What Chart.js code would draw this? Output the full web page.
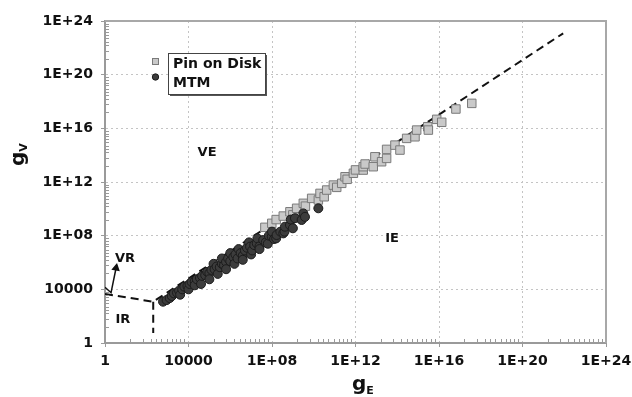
<!DOCTYPE html>
<html>
<head>
<meta charset="utf-8">
<script src="https://cdn.jsdelivr.net/npm/chart.js@4.4.0/dist/chart.umd.min.js"></script>
<style>
  html, body { margin: 0; padding: 0; background: #fff; }
  #wrap { width: 632px; height: 397px; }
</style>
</head>
<body>
<div id="wrap"><canvas id="chart" width="632" height="397"></canvas></div>
<script>
// values, as log10 of gE / gV
const pinLogE = [7.66, 7.99, 8.2, 8.54, 8.86, 9.0, 9.18, 9.5, 9.6, 9.9, 10.22, 10.3, 10.5, 10.62, 10.94, 11.1, 11.34, 11.5, 11.6, 11.9, 12.0, 12.37, 12.37, 12.46, 12.85, 12.93, 13.25, 13.49, 13.49, 13.89, 14.13, 14.45, 14.85, 14.93, 15.46, 15.49, 15.89, 16.13, 16.81, 17.57];
const pinLogV = [8.62, 8.92, 9.2, 9.46, 9.78, 9.55, 10.04, 10.41, 10.2, 10.78, 10.66, 11.15, 10.9, 11.4, 11.77, 11.6, 11.9, 12.39, 12.2, 12.65, 12.9, 12.89, 13.14, 13.34, 13.14, 13.88, 13.51, 13.76, 14.43, 14.75, 14.38, 15.25, 15.37, 15.87, 16.12, 15.87, 16.67, 16.45, 17.44, 17.86];

const mtmLogE = [2.78, 2.95, 3.1, 3.2, 3.3, 3.45, 3.55, 3.6, 3.7, 3.8, 3.95, 4.0, 4.05, 4.15, 4.3, 4.3, 4.4, 4.55, 4.6, 4.65, 4.8, 4.9, 5.0, 5.0, 5.1, 5.2, 5.25, 5.35, 5.4, 5.5, 5.6, 5.6, 5.7, 5.8, 5.8, 5.9, 6.0, 6.0, 6.15, 6.2, 6.25, 6.35, 6.4, 6.5, 6.6, 6.6, 6.7, 6.8, 6.9, 6.95, 7.0, 7.05, 7.15, 7.27, 7.3, 7.4, 7.4, 7.58, 7.7, 7.8, 7.85, 7.99, 8.0, 8.1, 8.2, 8.22, 8.4, 8.54, 8.6, 8.62, 8.86, 8.9, 9.0, 9.1, 9.42, 9.5, 9.58, 10.22];
const mtmLogV = [3.08, 3.2, 3.35, 3.5, 3.7, 3.75, 3.9, 3.6, 4.0, 4.2, 4.25, 4.0, 4.4, 4.55, 4.6, 4.3, 4.75, 4.85, 4.4, 5.0, 5.05, 5.3, 5.2, 4.75, 5.45, 5.9, 5.5, 5.7, 5.15, 5.65, 5.9, 6.3, 5.8, 6.05, 5.5, 6.3, 6.1, 6.7, 6.4, 5.9, 6.6, 6.3, 7.0, 6.7, 6.5, 6.2, 6.9, 7.1, 7.5, 7.18, 6.6, 6.9, 7.3, 7.43, 7.8, 7.2, 7.0, 7.67, 7.5, 7.4, 8.0, 7.92, 8.3, 7.75, 7.8, 8.05, 8.3, 8.17, 8.3, 8.67, 8.79, 9.2, 8.55, 9.3, 9.17, 9.66, 9.4, 10.04];

// regime boundaries (dashed) and the VR arrow
const boundaryLogE = [0, 2.31, 21.95];
const boundaryLogV = [3.65, 3.08, 23.08];
const irLogE = [2.31, 2.31];
const irLogV = [3.08, 0.75];
const arrowLogE = [0, 0.29, 0.53];
const arrowLogV = [4.15, 3.75, 5.59];

const majorTicks = [1, 1e4, 1e8, 1e12, 1e16, 1e20, 1e24];
const tickLabels = ["1", "10000", "1E+08", "1E+12", "1E+16", "1E+20", "1E+24"];
const minorOffsets = [1.2, 1.8, 2.2, 2.45, 2.7, 2.95, 3.2, 3.4, 3.6, 3.8];

const regionNames = ["VE", "IE", "VR", "IR"];
const regionLogE = [4.89, 13.75, 0.96, 0.86];
const regionLogV = [14.16, 7.75, 6.26, 1.71];

const toPoints = (le, lv) => le.map((e, i) => ({ x: Math.pow(10, e), y: Math.pow(10, lv[i]) }));

const FONT = "'DejaVu Sans', Verdana, sans-serif";

const extras = {
  id: "extras",
  afterDraw(chart) {
    const { ctx, chartArea: a, scales } = chart;
    const xs = scales.x, ys = scales.y;
    ctx.save();

    // frame top / right
    ctx.strokeStyle = "#a8a8a8";
    ctx.lineWidth = 2;
    ctx.beginPath();
    ctx.moveTo(a.left, a.top);
    ctx.lineTo(a.right, a.top);
    ctx.lineTo(a.right, a.bottom);
    ctx.stroke();

    // minor ticks, pointing inward
    ctx.strokeStyle = "#9a9a9a";
    ctx.lineWidth = 1;
    ctx.beginPath();
    for (let m = 0; m < 24; m += 4) {
      minorOffsets.forEach((o) => {
        const px = Math.round(xs.getPixelForValue(Math.pow(10, m + o))) + 0.5;
        ctx.moveTo(px, a.bottom);
        ctx.lineTo(px, a.bottom - 4);
        const py = Math.round(ys.getPixelForValue(Math.pow(10, m + o))) + 0.5;
        ctx.moveTo(a.left, py);
        ctx.lineTo(a.left + 4, py);
      });
    }
    ctx.stroke();

    // region names
    ctx.fillStyle = "#111";
    ctx.font = "bold 13px " + FONT;
    ctx.textAlign = "center";
    ctx.textBaseline = "middle";
    regionNames.forEach((n, i) => {
      ctx.fillText(n,
        xs.getPixelForValue(Math.pow(10, regionLogE[i])),
        ys.getPixelForValue(Math.pow(10, regionLogV[i])));
    });

    // axis titles with subscripts
    ctx.textAlign = "left";
    ctx.textBaseline = "alphabetic";
    ctx.font = "bold 20px " + FONT;
    ctx.fillText("g", 352, 390);
    const gw = ctx.measureText("g").width;
    ctx.font = "bold 11px " + FONT;
    ctx.fillText("E", 352 + gw, 394);

    ctx.save();
    ctx.translate(24, 166);
    ctx.rotate(-Math.PI / 2);
    ctx.font = "bold 20px " + FONT;
    ctx.fillText("g", 0, 0);
    ctx.font = "bold 11px " + FONT;
    ctx.fillText("V", gw, 3);
    ctx.restore();

    // legend
    const bx = 168, by = 53, bw = 97, bh = 41;
    ctx.fillStyle = "#555";
    ctx.fillRect(bx + 2, by + 2, bw, bh);
    ctx.fillStyle = "#fff";
    ctx.fillRect(bx, by, bw, bh);
    ctx.strokeStyle = "#444";
    ctx.lineWidth = 1;
    ctx.strokeRect(bx + 0.5, by + 0.5, bw, bh);

    const ds = chart.data.datasets;
    ctx.fillStyle = ds[0].backgroundColor;
    ctx.strokeStyle = ds[0].borderColor;
    ctx.fillRect(152, 58, 6, 6);
    ctx.strokeRect(152.5, 58.5, 6, 6);
    ctx.fillStyle = ds[1].backgroundColor;
    ctx.strokeStyle = ds[1].borderColor;
    ctx.beginPath();
    ctx.arc(155.5, 77, 3.2, 0, Math.PI * 2);
    ctx.fill();
    ctx.stroke();

    ctx.fillStyle = "#111";
    ctx.font = "bold 14px " + FONT;
    ctx.fillText(ds[0].label, 173, 68);
    ctx.fillText(ds[1].label, 173, 87);

    ctx.restore();
  },
};

new Chart(document.getElementById("chart"), {
  type: "scatter",
  data: {
    datasets: [
      {
        label: "Pin on Disk",
        data: toPoints(pinLogE, pinLogV),
        pointStyle: "rect",
        pointRadius: 6,
        backgroundColor: "#c9c9c9",
        borderColor: "#7a7a7a",
        borderWidth: 1,
        order: 1,
      },
      {
        label: "MTM",
        data: toPoints(mtmLogE, mtmLogV),
        pointStyle: "circle",
        pointRadius: 4.5,
        backgroundColor: "#3c3c3c",
        borderColor: "#1c1c1c",
        borderWidth: 1,
        order: 0,
      },
      {
        label: "boundary",
        data: toPoints(boundaryLogE, boundaryLogV),
        showLine: true,
        borderColor: "#111",
        borderWidth: 2,
        borderDash: [8, 5],
        pointRadius: 0,
        order: 3,
      },
      {
        label: "IR",
        data: toPoints(irLogE, irLogV),
        showLine: true,
        borderColor: "#111",
        borderWidth: 2,
        borderDash: [8, 5],
        pointRadius: 0,
        order: 3,
      },
      {
        label: "arrow",
        data: toPoints(arrowLogE, arrowLogV),
        showLine: true,
        borderColor: "#111",
        borderWidth: 1.5,
        backgroundColor: "#111",
        pointStyle: "triangle",
        pointRadius: [0, 0, 3.5],
        pointRotation: 11,
        order: 2,
      },
    ],
  },
  options: {
    responsive: false,
    animation: false,
    layout: { padding: { top: 21, right: 26, left: 0, bottom: 0 } },
    plugins: { legend: { display: false }, tooltip: { enabled: false } },
    scales: {
      x: {
        type: "logarithmic",
        min: 1,
        max: 1e24,
        afterBuildTicks: (s) => { s.ticks = majorTicks.map((v) => ({ value: v })); },
        afterFit: (s) => { s.height = 54; s.paddingRight = 0; s.paddingLeft = 0; },
        ticks: {
          autoSkip: false,
          maxRotation: 0,
          padding: 6,
          color: "#111",
          font: { family: FONT, weight: "bold", size: 14 },
          callback: (v, i) => tickLabels[i],
        },
        grid: { color: "#c4c4c4", lineWidth: 1, tickLength: 4, tickColor: "#9a9a9a" },
        border: { color: "#9a9a9a", width: 2, dash: [2, 3] },
      },
      y: {
        type: "logarithmic",
        min: 1,
        max: 1e24,
        afterBuildTicks: (s) => { s.ticks = majorTicks.map((v) => ({ value: v })); },
        afterFit: (s) => { s.width = 105; },
        ticks: {
          autoSkip: false,
          padding: 8,
          color: "#111",
          font: { family: FONT, weight: "bold", size: 14 },
          callback: (v, i) => tickLabels[i],
        },
        grid: { color: "#c4c4c4", lineWidth: 1, tickLength: 4, tickColor: "#9a9a9a" },
        border: { color: "#9a9a9a", width: 2, dash: [2, 3] },
      },
    },
  },
  plugins: [extras],
});
</script>
</body>
</html>
